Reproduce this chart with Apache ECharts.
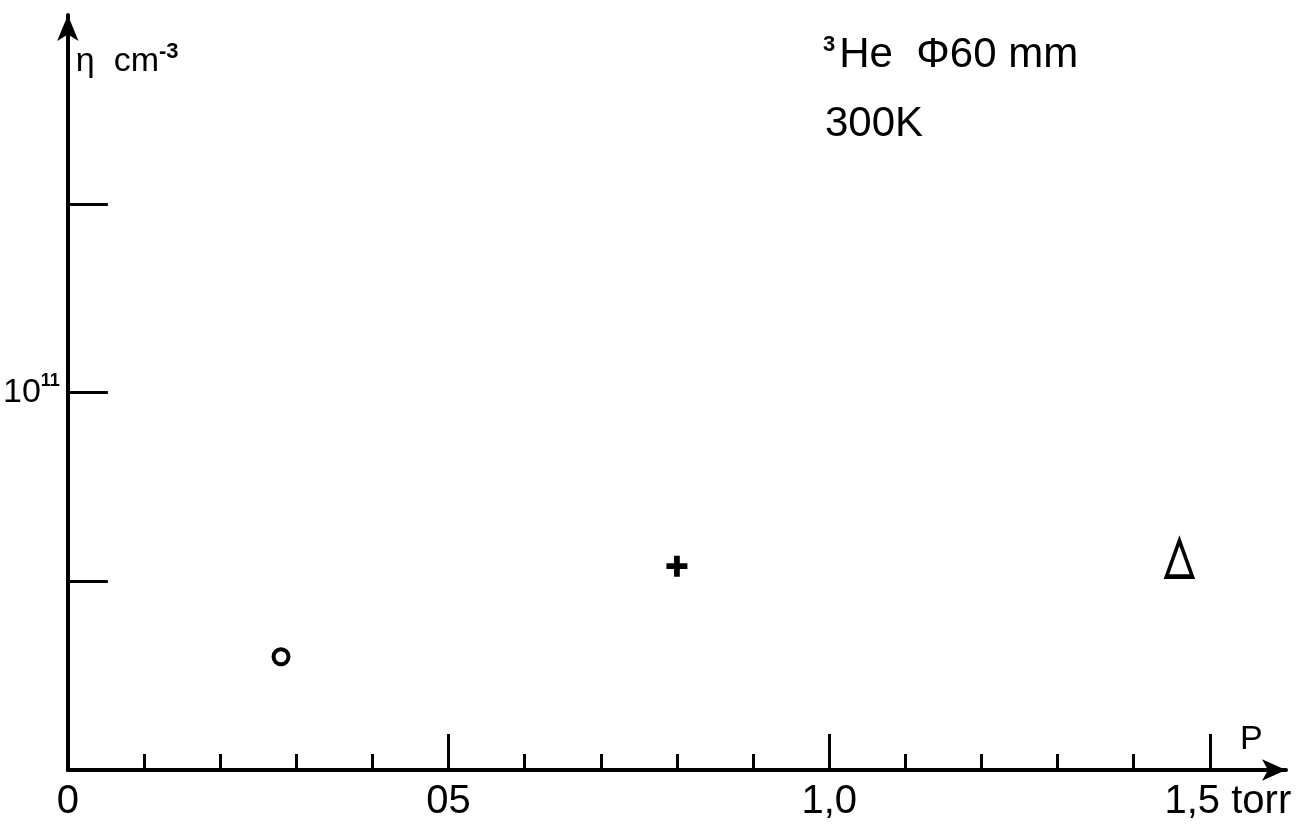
<!DOCTYPE html>
<html>
<head>
    <meta charset="UTF-8">
    <title>3He density vs pressure</title>
    <script src="https://cdn.jsdelivr.net/npm/echarts@6/dist/echarts.min.js"></script>
    <style>
        html, body { margin: 0; padding: 0; background: #fff; }
        #chart { width: 1316px; height: 830px; }
    </style>
</head>
<body>
<div id="chart"></div>
<script>
    // values (pressure in torr, density in 1e11 cm^-3)
    var pressure = [0.28, 0.80, 1.46];
    var density = [0.30, 0.54, 0.56];
    var markers = ['circle', 'plus', 'triangle'];

    var xMinorTicks = [0.1, 0.2, 0.3, 0.4, 0.6, 0.7, 0.8, 0.9, 1.1, 1.2, 1.3, 1.4];
    var xMajorTicks = [0.5, 1.0, 1.5];
    var xLabelValues = [0, 0.5, 1.0, 1.5];
    var xLabelTexts = ['0', '05', '1,0', '{g|}1,5 torr'];
    var yTicks = [0.5, 1.0, 1.5];
    var yLabelValues = [1.0];

    var ink = '#000';
    var font = 'Liberation Sans';

    var markerStyle = {
        circle: { symbol: 'circle', symbolSize: 15, itemStyle: { color: '#fff', borderColor: ink, borderWidth: 4, opacity: 1 } },
        plus: { symbol: 'path://M4,0h3v4h4v3h-4v4h-3v-4h-4v-3h4z', symbolSize: 21, itemStyle: { color: ink, opacity: 1 } },
        triangle: { symbol: 'triangle', symbolSize: [26, 36], itemStyle: { color: '#fff', borderColor: ink, borderWidth: 4, opacity: 1 } }
    };

    var series = pressure.map(function (p, i) {
        var m = markerStyle[markers[i]];
        return {
            type: 'scatter',
            symbol: m.symbol,
            symbolSize: m.symbolSize,
            itemStyle: m.itemStyle,
            data: [[p, density[i]]],
            silent: true
        };
    });

    var chart = echarts.init(document.getElementById('chart'));
    chart.setOption({
        backgroundColor: '#fff',
        animation: false,
        grid: { left: 66, right: 30, top: 15, bottom: 60 },
        xAxis: [
            {
                type: 'value', min: 0, max: 1.6,
                axisLine: { show: true, symbol: ['none', 'arrow'], symbolSize: [16, 24], lineStyle: { color: ink, width: 4 } },
                axisTick: { show: true, inside: true, length: 16, customValues: xMinorTicks, lineStyle: { color: ink, width: 3 } },
                axisLabel: {
                    customValues: xLabelValues,
                    margin: 12,
                    color: ink,
                    fontFamily: font,
                    fontSize: 40,
                    formatter: function (v) {
                        return xLabelTexts[xLabelValues.indexOf(v)];
                    },
                    rich: { g: { width: 36 } }
                },
                splitLine: { show: false }
            },
            {
                type: 'value', min: 0, max: 1.6, position: 'bottom',
                axisLine: { show: false },
                axisTick: { show: true, inside: true, length: 36, customValues: xMajorTicks, lineStyle: { color: ink, width: 3 } },
                axisLabel: { show: false },
                splitLine: { show: false }
            }
        ],
        yAxis: {
            type: 'value', min: 0, max: 2.0,
            name: 'η  cm{s|-3}',
            nameLocation: 'end',
            nameGap: -68,
            nameTextStyle: {
                align: 'left', color: ink, fontFamily: font, fontSize: 34, padding: [0, 0, 0, 8],
                rich: { s: { fontSize: 22, fontWeight: 'bold', verticalAlign: 'top', padding: [0, 0, 20, 0] } }
            },
            axisLine: { show: true, symbol: ['none', 'arrow'], symbolSize: [16, 26], lineStyle: { color: ink, width: 4 } },
            axisTick: { show: true, inside: true, length: 40, customValues: yTicks, lineStyle: { color: ink, width: 3 } },
            axisLabel: {
                customValues: yLabelValues,
                margin: 8,
                color: ink,
                fontFamily: font,
                formatter: function () { return '{n|10}{e|11}'; },
                rich: {
                    n: { fontSize: 34, fontFamily: font, color: ink },
                    e: { fontSize: 18, fontFamily: font, fontWeight: 'bold', color: ink, verticalAlign: 'top', padding: [0, 0, 22, 0] }
                }
            },
            splitLine: { show: false }
        },
        graphic: [
            {
                type: 'text', left: 823, top: 34,
                style: {
                    text: '{s|3}He  Φ60 mm',
                    fill: ink, font: '42px "' + font + '"',
                    rich: { s: { fontSize: 22, fontWeight: 'bold', fontFamily: font, fill: ink, verticalAlign: 'top', padding: [0, 4, 20, 0] } }
                }
            },
            {
                type: 'text', left: 825, top: 103,
                style: { text: '300K', fill: ink, font: '42px "' + font + '"' }
            },
            {
                type: 'text', left: 1240, top: 723,
                style: { text: 'P', fill: ink, font: '34px "' + font + '"' }
            }
        ],
        series: series
    });
</script>
</body>
</html>
